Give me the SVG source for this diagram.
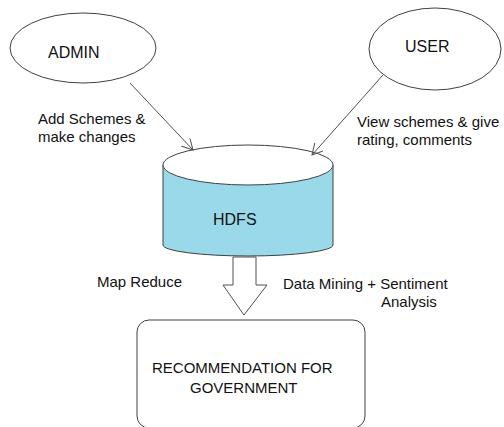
<svg xmlns="http://www.w3.org/2000/svg" width="504" height="427" viewBox="0 0 504 427">
<defs>
<style>
text{font-family:"Liberation Sans",Arial,sans-serif;fill:#111;font-size:15px}
.big{font-size:16px}
.shape{stroke:#404040;stroke-width:1;fill:#fff}
.conn{stroke:#505050;stroke-width:1;fill:none}
</style>
<marker id="open" viewBox="0 0 12 12" refX="11" refY="6" markerWidth="12" markerHeight="12" markerUnits="userSpaceOnUse" orient="auto">
<path d="M0,0 L11,6 L0,12" fill="none" stroke="#505050" stroke-width="1"/>
</marker>
</defs>
<rect width="504" height="427" fill="#fff"/>
<g id="admin">
<ellipse class="shape" cx="83" cy="48" rx="73" ry="35"/>
<text class="big" x="48" y="58">ADMIN</text>
</g>
<g id="user">
<ellipse class="shape" cx="435" cy="49" rx="66" ry="41"/>
<text class="big" x="405" y="52">USER</text>
</g>
<g id="hdfs">
<path d="M163,165 L163,245 A85,11 0 0 0 333,245 L333,165 Z" fill="#99d9ea" stroke="#404040" stroke-width="1"/>
<ellipse class="shape" cx="248" cy="165" rx="85" ry="20"/>
<text class="big" x="213" y="225">HDFS</text>
</g>
<g id="recommendation">
<rect class="shape" x="137" y="320" width="228" height="108" rx="12" ry="12"/>
<text x="152" y="373">RECOMMENDATION FOR</text>
<text x="190" y="393">GOVERNMENT</text>
</g>
<g id="connectors">
<line class="conn" x1="130" y1="83" x2="193" y2="150" marker-end="url(#open)"/>
<line class="conn" x1="383" y1="75" x2="312" y2="155" marker-end="url(#open)"/>
<polygon points="233,257 256,257 256,285 267,285 244,315 223,285 233,285" fill="#fff" stroke="#505050" stroke-width="1"/>
</g>
<g id="labels">
<text x="38" y="124">Add Schemes &amp;</text>
<text x="38" y="142">make changes</text>
<text x="357" y="127">View schemes &amp; give</text>
<text x="357" y="145">rating, comments</text>
<text x="97" y="287">Map Reduce</text>
<text x="283" y="289">Data Mining + Sentiment</text>
<text x="381" y="307">Analysis</text>
</g>
</svg>
